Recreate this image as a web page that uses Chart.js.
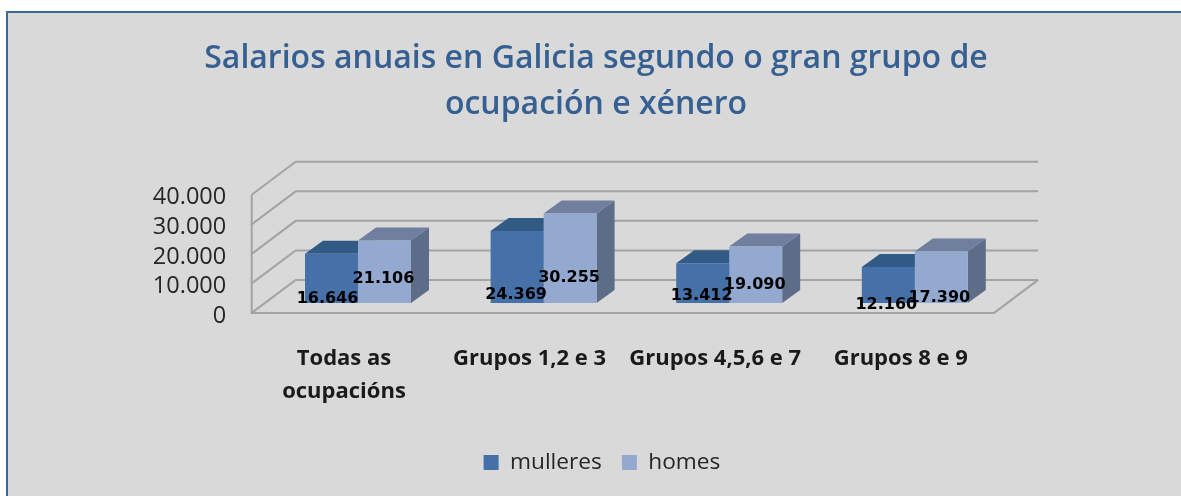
<!DOCTYPE html>
<html><head><meta charset="utf-8">
<style>html,body{margin:0;padding:0;background:#fff}#w{position:absolute;left:0;top:0;width:1181px;height:496px}</style>
<script src="https://cdn.jsdelivr.net/npm/chart.js@4"></script>
</head><body><div id="w"><canvas id="c"></canvas></div>
<script>
const categories = [["Todas as","ocupacións"],"Grupos 1,2 e 3","Grupos 4,5,6 e 7","Grupos 8 e 9"];
const mulleres = [16646, 24369, 13412, 12160];
const homes = [21106, 30255, 19090, 17390];
const titleLines = ["Salarios anuais en Galicia segundo o gran grupo de","ocupación e xénero"];

// styling: label nudges relative to each bar's centre / base
const nudgeX = [[-4,-1],[-1,-1],[-1,-1],[-2,-2]];
const nudgeY = [[-4,-24],[-8,-25],[-7,-18],[2,-5]];
const fmt = v => String(v).replace(/\B(?=(\d{3})+$)/g,'.');

const LEGEND_PAD = 20, LEGEND_SIZE = 22.7;
const threeD = {
  id:'threeD',
  afterLayout(ch){
    const shift=(b,cx)=>{const d=cx-(b.left+b.right)/2; b.left+=d; b.right+=d;};
    shift(ch.titleBlock,596);
    shift(ch.legend,602);
    const h=ch.legend.bottom-ch.legend.top;
    ch.legend.top=462.5-LEGEND_PAD-LEGEND_SIZE*0.5;
    ch.legend.bottom=ch.legend.top+h;
  },
  beforeDraw(ch){
    const c=ch.ctx;
    c.fillStyle='#fff'; c.fillRect(0,0,ch.width,ch.height);
    c.fillStyle='#d9d9d9'; c.fillRect(7,12,ch.width,ch.height);
    c.fillStyle='#3d6597'; c.fillRect(6,11,ch.width,2); c.fillRect(6,11,2,ch.height);
  },
  beforeDatasetsDraw(ch){
    const c=ch.ctx, y=ch.scales.y, a=ch.chartArea;
    const fx=-13.5, fy=10;
    const L=a.left+fx, R=a.right+fx;
    c.save(); c.strokeStyle='#a3a3a3'; c.lineWidth=2; c.lineJoin='miter';
    y.ticks.forEach(t=>{
      const p=y.getPixelForValue(t.value)+fy;
      c.beginPath(); c.moveTo(L,p); c.lineTo(L+44,p-33); c.lineTo(R+44,p-33); c.stroke();
    });
    const p0=y.getPixelForValue(0)+fy, pT=y.getPixelForValue(y.max)+fy;
    c.beginPath(); c.moveTo(L,pT); c.lineTo(L,p0); c.lineTo(R,p0); c.lineTo(R+44,p0-33); c.stroke();
    const dx=18, dy=-13;
    const sets=[{top:'#315a85',side:'#2f5480'},{top:'#6f7f9d',side:'#5d6c87'}];
    ch.data.datasets.forEach((d,i)=>{
      ch.getDatasetMeta(i).data.forEach(b=>{
        const l=b.x-b.width/2, r=b.x+b.width/2, t=b.y, B=b.base;
        c.fillStyle=sets[i].side; c.beginPath();
        c.moveTo(r,t); c.lineTo(r+dx,t+dy); c.lineTo(r+dx,B+dy); c.lineTo(r,B); c.closePath(); c.fill();
        c.fillStyle=sets[i].top; c.beginPath();
        c.moveTo(l,t); c.lineTo(l+dx,t+dy); c.lineTo(r+dx,t+dy); c.lineTo(r,t); c.closePath(); c.fill();
      });
    });
    c.restore();
  },
  afterDatasetsDraw(ch){
    const c=ch.ctx;
    c.save(); c.fillStyle='#000'; c.font='bold 16px "DejaVu Sans"'; c.textAlign='center'; c.textBaseline='middle';
    ch.data.datasets.forEach((d,i)=>{
      ch.getDatasetMeta(i).data.forEach((b,j)=>{
        c.fillText(fmt(d.data[j]), b.x+nudgeX[j][i], b.base+nudgeY[j][i]);
      });
    });
    c.restore();
  }
};

new Chart(document.getElementById('c'),{
  type:'bar',
  data:{labels:categories,datasets:[
    {label:'mulleres',data:mulleres,backgroundColor:'#4571a8'},
    {label:'homes',data:homes,backgroundColor:'#94a9d0'}
  ]},
  plugins:[threeD],
  options:{
    responsive:true,maintainAspectRatio:false,animation:false,
    layout:{padding:{left:100,right:173.4,top:0,bottom:0}},
    datasets:{bar:{categoryPercentage:0.571,barPercentage:1,borderWidth:0}},
    plugins:{
      tooltip:{enabled:false},
      title:{display:true,text:titleLines,color:'#376092',
        font:{family:'Open Sans',size:32,weight:'600',lineHeight:46/32},
        padding:{top:36,bottom:56.8}},
      legend:{position:'bottom',labels:{color:'#262626',boxWidth:15,boxHeight:15,padding:LEGEND_PAD,
        font:{family:'Open Sans',size:LEGEND_SIZE}}}
    },
    scales:{
      x:{grid:{display:false},border:{display:false},
        afterFit(s){s.height=140.4;},
        ticks:{color:'#1a1a1a',labelOffset:-14,padding:31,maxRotation:0,autoSkip:false,
          font:{family:'Open Sans',size:22,weight:'bold',lineHeight:33/22}}},
      y:{min:0,max:40000,grid:{display:false},border:{display:false},
        afterFit(s){s.width=165.2;},
        ticks:{stepSize:10000,autoSkip:false,color:'#262626',padding:31,labelOffset:13,
          font:{family:'Open Sans',size:23.5},callback:v=>fmt(v)}}
    }
  }
});
</script></body></html>
